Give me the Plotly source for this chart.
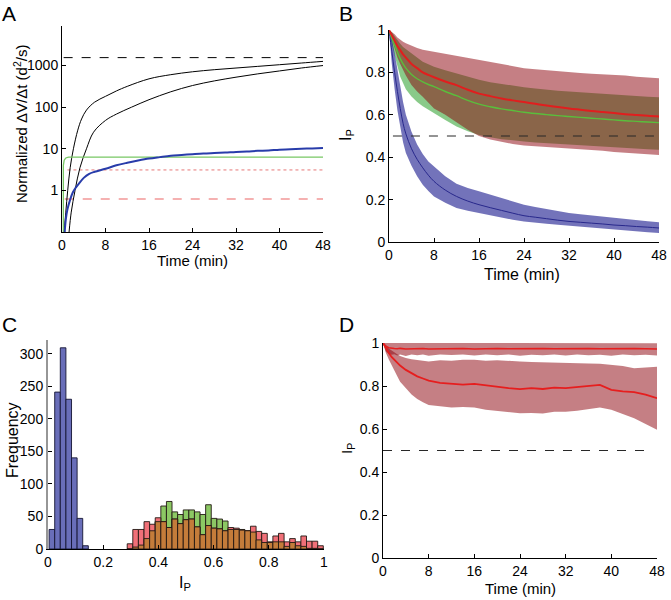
import plotly.graph_objects as go

W, H = 671, 600
FONT = "Arial, Liberation Sans, sans-serif"

# ---------------- Panel A data ----------------
tA_upper = [0.4, 0.7, 1.05, 1.5, 2.1, 2.9, 3.6, 4.5, 6, 8, 10, 12, 16, 20, 24, 28, 32, 36, 40, 44, 48]
vA_upper = [0.1, 0.3, 1, 3.5, 10, 28, 52, 85, 132, 182, 245, 316, 479, 603, 708, 794, 871, 955, 1047, 1148, 1259]
tA_lower = [1.3, 1.7, 2.4, 3.3, 4.5, 5.8, 8, 10, 12.8, 16, 20, 24, 28, 32, 36, 40, 44, 48]
vA_lower = [0.1, 0.3, 1, 3.5, 10, 25, 48, 68, 100, 151, 234, 331, 427, 525, 631, 741, 871, 1000]
tA_blue = [0.5, 0.7, 1.0, 1.5, 2, 2.5, 3, 4, 5, 6, 8, 10, 12, 14, 16, 18, 20, 22, 24, 26, 28, 30,
           32, 34, 36, 38, 40, 42, 44, 46, 48]
vA_blue = [0.1, 0.2, 0.35, 0.6, 0.9, 1.15, 1.4, 2.0, 2.5, 2.8, 3.3, 4.0, 4.6, 5.2, 5.8, 6.3, 6.8, 7.1,
           7.4, 7.7, 7.9, 8.1, 8.4, 8.6, 8.9, 9.1, 9.5, 9.7, 10.0, 10.2, 10.5]
tA_green = [0.25, 0.25, 0.4, 0.7, 1.2, 48]
vA_green = [0.1, 4.0, 5.3, 6.0, 6.3, 6.3]
A_black_dash = 1550
A_red_dot = 3.1
A_red_dash = 0.62
A_ticks = [1, 10, 100, 1000]
A_ticktext = ["1", "10", "100", "1000"]

# ---------------- Panel B data ----------------
tB = [0, 0.5, 1, 1.5, 2, 2.5, 3, 4, 5, 6, 7, 8, 10, 12, 14, 16, 18, 20, 22, 24, 26, 28, 30, 32,
      34, 36, 38, 40, 42, 44, 46, 48]
blue_mean = [1.0, 0.90, 0.80, 0.71, 0.63, 0.56, 0.51, 0.44, 0.39, 0.35, 0.315, 0.286, 0.245, 0.215,
             0.193, 0.176, 0.162, 0.149, 0.136, 0.124, 0.117, 0.110, 0.103, 0.097, 0.093, 0.089,
             0.085, 0.080, 0.077, 0.073, 0.070, 0.066]
blue_up = [1.0, 0.96, 0.89, 0.81, 0.73, 0.66, 0.60, 0.52, 0.46, 0.415, 0.38, 0.356, 0.31, 0.275,
           0.255, 0.239, 0.223, 0.208, 0.19, 0.176, 0.165, 0.155, 0.145, 0.137, 0.131, 0.125,
           0.119, 0.113, 0.108, 0.103, 0.098, 0.093]
blue_lo = [1.0, 0.84, 0.72, 0.62, 0.54, 0.47, 0.42, 0.36, 0.31, 0.27, 0.24, 0.215, 0.185, 0.16,
           0.147, 0.137, 0.125, 0.115, 0.105, 0.097, 0.091, 0.086, 0.081, 0.077, 0.072, 0.068,
           0.064, 0.058, 0.054, 0.050, 0.046, 0.042]
green_mean = [1.0, 0.96, 0.93, 0.895, 0.865, 0.84, 0.82, 0.79, 0.77, 0.755, 0.743, 0.733, 0.71,
              0.69, 0.668, 0.65, 0.638, 0.628, 0.62, 0.612, 0.606, 0.601, 0.596, 0.592, 0.588,
              0.584, 0.58, 0.576, 0.572, 0.569, 0.566, 0.563]
green_up = [1.0, 0.99, 0.97, 0.95, 0.935, 0.92, 0.91, 0.89, 0.87, 0.85, 0.838, 0.827, 0.81, 0.795,
            0.778, 0.765, 0.754, 0.745, 0.737, 0.73, 0.724, 0.718, 0.714, 0.71, 0.706, 0.702,
            0.698, 0.694, 0.691, 0.688, 0.685, 0.683]
green_lo = [1.0, 0.93, 0.88, 0.83, 0.78, 0.75, 0.72, 0.686, 0.66, 0.64, 0.622, 0.607, 0.575, 0.545,
            0.522, 0.505, 0.494, 0.485, 0.479, 0.474, 0.469, 0.465, 0.461, 0.458, 0.455, 0.452,
            0.45, 0.447, 0.444, 0.441, 0.438, 0.435]
red_mean = [1.0, 0.975, 0.95, 0.925, 0.905, 0.885, 0.87, 0.84, 0.82, 0.80, 0.788, 0.777, 0.757,
            0.74, 0.718, 0.70, 0.688, 0.677, 0.668, 0.66, 0.652, 0.644, 0.637, 0.63, 0.624, 0.618,
            0.613, 0.608, 0.603, 0.599, 0.595, 0.592]
red_up = [1.0, 0.99, 0.98, 0.965, 0.953, 0.945, 0.937, 0.925, 0.915, 0.907, 0.902, 0.898, 0.888,
          0.877, 0.868, 0.859, 0.849, 0.838, 0.828, 0.82, 0.815, 0.81, 0.805, 0.80, 0.797, 0.794,
          0.792, 0.79, 0.785, 0.78, 0.776, 0.772]
red_lo = [1.0, 0.95, 0.91, 0.87, 0.84, 0.81, 0.785, 0.74, 0.71, 0.685, 0.66, 0.63, 0.6, 0.565,
          0.53, 0.50, 0.484, 0.472, 0.462, 0.455, 0.45, 0.446, 0.443, 0.44, 0.437, 0.434, 0.431,
          0.425, 0.42, 0.416, 0.413, 0.41]
B_dash = 0.5

# ---------------- Panel C data ----------------
blue_first_edge = 0.004
gr_first_edge = 0.287
bin_w = 0.0203
blue_counts = [30, 241, 309, 230, 140, 47, 5]
red_counts = [8, 30, 30, 42, 38, 48, 42, 33, 46, 39, 45, 46, 34, 22, 36, 32, 31, 28, 33, 32, 29, 28,
              35, 27, 24, 11, 20, 24, 11, 16, 11, 20, 12, 12, 5]
green_counts = [0, 3, 6, 16, 28, 42, 66, 73, 57, 53, 60, 60, 57, 53, 68, 47, 46, 43, 30, 30, 30, 28,
                26, 14, 10, 10, 11, 11, 4, 10, 5, 4, 1, 1, 0]

# ---------------- Panel D data ----------------
tD = tB
d1_mean = [1.0, 0.985, 0.978, 0.975, 0.974, 0.973, 0.975, 0.972, 0.974, 0.973, 0.975, 0.972, 0.974,
           0.973, 0.975, 0.972, 0.974, 0.975, 0.973, 0.974, 0.972, 0.975, 0.973, 0.974, 0.972,
           0.975, 0.973, 0.974, 0.972, 0.974, 0.973, 0.972]
d1_up = [1.0, 1.0, 1.0, 0.998, 1.0, 0.999, 1.0, 0.997, 1.0, 0.999, 1.0, 0.998, 1.0, 0.999, 1.0, 0.998,
         1.0, 0.999, 1.0, 0.998, 1.0, 0.999, 1.0, 0.998, 1.0, 0.999, 1.0, 0.998, 1.0, 0.999, 1.0, 0.999]
d1_lo = [1.0, 0.96, 0.95, 0.945, 0.948, 0.942, 0.946, 0.94, 0.947, 0.943, 0.946, 0.941, 0.947,
         0.944, 0.946, 0.942, 0.947, 0.943, 0.946, 0.941, 0.945, 0.943, 0.947, 0.942, 0.946, 0.943,
         0.945, 0.941, 0.946, 0.943, 0.945, 0.942]
d2_mean = [1.0, 0.975, 0.955, 0.935, 0.92, 0.905, 0.895, 0.875, 0.858, 0.845, 0.835, 0.825, 0.815,
           0.81, 0.806, 0.81, 0.803, 0.795, 0.79, 0.785, 0.79, 0.786, 0.792, 0.79, 0.795, 0.798,
           0.805, 0.782, 0.775, 0.772, 0.76, 0.743]
d2_up = [1.0, 0.99, 0.975, 0.965, 0.955, 0.948, 0.94, 0.93, 0.925, 0.92, 0.917, 0.914, 0.92, 0.918,
         0.922, 0.922, 0.918, 0.92, 0.916, 0.914, 0.912, 0.91, 0.909, 0.907, 0.906, 0.905, 0.904,
         0.899, 0.893, 0.883, 0.887, 0.89]
d2_lo = [1.0, 0.955, 0.925, 0.9, 0.87, 0.845, 0.82, 0.79, 0.76, 0.74, 0.725, 0.712, 0.705, 0.70,
         0.702, 0.70, 0.69, 0.683, 0.678, 0.673, 0.675, 0.672, 0.68, 0.68, 0.685, 0.692, 0.70,
         0.69, 0.67, 0.65, 0.625, 0.596]
D_dash = 0.5

time_ticks = [0, 8, 16, 24, 32, 40, 48]


def dom_x(a, b):
    return [a / W, b / W]


def dom_y(top, bottom):
    return [1 - bottom / H, 1 - top / H]


fig = go.Figure()

# ---- Panel A ----
fig.add_trace(go.Scatter(x=[0.3, 48], y=[A_black_dash, A_black_dash], mode="lines",
                         line=dict(color="black", width=1, dash="dash"), xaxis="x", yaxis="y"))
fig.add_trace(go.Scatter(x=[1.0, 48], y=[A_red_dot, A_red_dot], mode="lines",
                         line=dict(color="rgb(230,120,120)", width=1, dash="dot"), xaxis="x", yaxis="y"))
fig.add_trace(go.Scatter(x=[0.5, 48], y=[A_red_dash, A_red_dash], mode="lines",
                         line=dict(color="rgb(235,100,100)", width=1.2, dash="dash"), xaxis="x", yaxis="y"))
fig.add_trace(go.Scatter(x=tA_upper, y=vA_upper, mode="lines", line=dict(color="black", width=1),
                         line_shape="spline", xaxis="x", yaxis="y"))
fig.add_trace(go.Scatter(x=tA_lower, y=vA_lower, mode="lines", line=dict(color="black", width=1),
                         line_shape="spline", xaxis="x", yaxis="y"))
fig.add_trace(go.Scatter(x=tA_green, y=vA_green, mode="lines",
                         line=dict(color="rgb(120,200,100)", width=1.3), xaxis="x", yaxis="y"))
fig.add_trace(go.Scatter(x=tA_blue, y=vA_blue, mode="lines", line_shape="spline",
                         line=dict(color="rgb(40,60,170)", width=2), xaxis="x", yaxis="y"))


# ---- Panel B ----
def band(t, up, lo, color, xa, ya):
    return go.Scatter(x=list(t) + list(t)[::-1], y=list(up) + list(lo)[::-1], mode="lines",
                      fill="toself", fillcolor=color, line=dict(width=0), xaxis=xa, yaxis=ya,
                      hoverinfo="skip")


fig.add_trace(band(tB, green_up, green_lo, "rgba(20,150,20,0.5)", "x2", "y2"))
fig.add_trace(band(tB, red_up, red_lo, "rgba(140,0,10,0.5)", "x2", "y2"))
fig.add_trace(band(tB, blue_up, blue_lo, "rgba(0,0,130,0.55)", "x2", "y2"))
fig.add_trace(go.Scatter(x=tB, y=blue_mean, mode="lines", line_shape="spline",
                         line=dict(color="rgb(40,40,140)", width=1), xaxis="x2", yaxis="y2"))
fig.add_trace(go.Scatter(x=tB, y=green_mean, mode="lines", line_shape="spline",
                         line=dict(color="rgb(90,190,60)", width=1.4), xaxis="x2", yaxis="y2"))
fig.add_trace(go.Scatter(x=tB, y=red_mean, mode="lines", line_shape="spline",
                         line=dict(color="rgb(225,30,30)", width=2), xaxis="x2", yaxis="y2"))
fig.add_trace(go.Scatter(x=[0.7, 48], y=[B_dash, B_dash], mode="lines",
                         line=dict(color="rgb(40,40,40)", width=1, dash="dash"), xaxis="x2", yaxis="y2"))

# ---- Panel C ----
blue_centers = [blue_first_edge + bin_w * (i + 0.5) for i in range(len(blue_counts))]
gr_centers = [gr_first_edge + bin_w * (i + 0.5) for i in range(len(red_counts))]
overlap_counts = [min(r, g) for r, g in zip(red_counts, green_counts)]
edge = dict(color="rgb(35,25,20)", width=0.9)
fig.add_trace(go.Bar(x=blue_centers, y=blue_counts, width=bin_w,
                     marker=dict(color="rgb(105,110,185)", line=dict(color="rgb(20,20,50)", width=0.9)),
                     xaxis="x3", yaxis="y3"))
fig.add_trace(go.Bar(x=gr_centers, y=green_counts, width=bin_w,
                     marker=dict(color="rgb(140,200,100)", line=edge), xaxis="x3", yaxis="y3"))
fig.add_trace(go.Bar(x=gr_centers, y=red_counts, width=bin_w,
                     marker=dict(color="rgb(240,112,120)", line=edge), xaxis="x3", yaxis="y3"))
fig.add_trace(go.Bar(x=gr_centers, y=overlap_counts, width=bin_w,
                     marker=dict(color="rgb(196,124,58)", line=edge), xaxis="x3", yaxis="y3"))

# ---- Panel D ----
fig.add_trace(band(tD, d2_up, d2_lo, "rgba(140,0,10,0.5)", "x4", "y4"))
fig.add_trace(band(tD, d1_up, d1_lo, "rgba(140,0,10,0.5)", "x4", "y4"))
fig.add_trace(go.Scatter(x=tD, y=d1_mean, mode="lines",
                         line=dict(color="rgb(230,30,30)", width=1.5), xaxis="x4", yaxis="y4"))
fig.add_trace(go.Scatter(x=tD, y=d2_mean, mode="lines",
                         line=dict(color="rgb(230,30,30)", width=1.8), xaxis="x4", yaxis="y4"))
fig.add_trace(go.Scatter(x=[0, 47], y=[D_dash, D_dash], mode="lines",
                         line=dict(color="rgb(40,40,40)", width=1, dash="dash"), xaxis="x4", yaxis="y4"))

tickfont = dict(family=FONT, size=14, color="black")
ax_common = dict(showline=True, linecolor="black", linewidth=1, ticks="inside", ticklen=4,
                 tickcolor="black", showgrid=False, zeroline=False, tickfont=tickfont, mirror=False,
                 ticklabeloverflow="allow")
frac_ticks = [0, 0.2, 0.4, 0.6, 0.8, 1]
frac_text = ["0", "0.2", "0.4", "0.6", "0.8", "1"]

fig.update_layout(
    width=W, height=H, margin=dict(l=0, r=0, t=0, b=0, autoexpand=False), showlegend=False,
    paper_bgcolor="white", plot_bgcolor="white", barmode="overlay",
    font=dict(family=FONT, color="black"),
    xaxis=dict(domain=dom_x(62, 323), range=[0, 48], tickvals=time_ticks, anchor="y", **ax_common),
    yaxis=dict(domain=dom_y(26, 232), type="log", range=[-1.0, 3.95], tickvals=A_ticks,
               ticktext=A_ticktext, anchor="x", **ax_common),
    xaxis2=dict(domain=dom_x(389, 659), range=[0, 48], tickvals=time_ticks, anchor="y2", **ax_common),
    yaxis2=dict(domain=dom_y(30, 242), range=[0, 1], tickvals=frac_ticks, ticktext=frac_text,
                anchor="x2", **ax_common),
    xaxis3=dict(domain=dom_x(48, 324), range=[0, 1], tickvals=frac_ticks, ticktext=frac_text,
                anchor="y3", **ax_common),
    yaxis3=dict(domain=dom_y(340, 549), range=[0, 321], tickvals=[0, 50, 100, 150, 200, 250, 300],
                anchor="x3", **{**ax_common, "linecolor": "rgb(150,150,150)", "linewidth": 2}),
    xaxis4=dict(domain=dom_x(383, 657), range=[0, 48], tickvals=time_ticks, anchor="y4", **ax_common),
    yaxis4=dict(domain=dom_y(343, 558), range=[0, 1], tickvals=frac_ticks, ticktext=frac_text,
                anchor="x4", **ax_common),
)


def ann(text, px, py, size, angle=0):
    fig.add_annotation(text=text, x=px / W, y=1 - py / H, xref="paper", yref="paper",
                       showarrow=False, xanchor="center", yanchor="middle", textangle=angle,
                       font=dict(family=FONT, size=size, color="black"))


ann("A", 9, 14, 21)
ann("B", 346, 14, 21)
ann("C", 9, 324, 21)
ann("D", 346, 324, 21)
ann("Time (min)", 192, 260, 15)
ann("Normalized ΔV/Δt (d<sup>2</sup>/s)", 20, 124, 15, -90)
ann("Time (min)", 522, 274, 16)
ann("I<sub>P</sub>", 346, 135, 16, -90)
ann("I<sub>P</sub>", 185, 583, 16)
ann("Frequency", 13, 440, 16, -90)
ann("Time (min)", 520, 588, 15)
ann("I<sub>P</sub>", 347, 448, 15, -90)

# Remove the browser's default 8px body margin so the 671x600 figure fills the window exactly.
fig.write_html("out.html", config={"displayModeBar": False},
               post_script="document.body.style.margin='0';document.body.style.overflow='hidden';")
